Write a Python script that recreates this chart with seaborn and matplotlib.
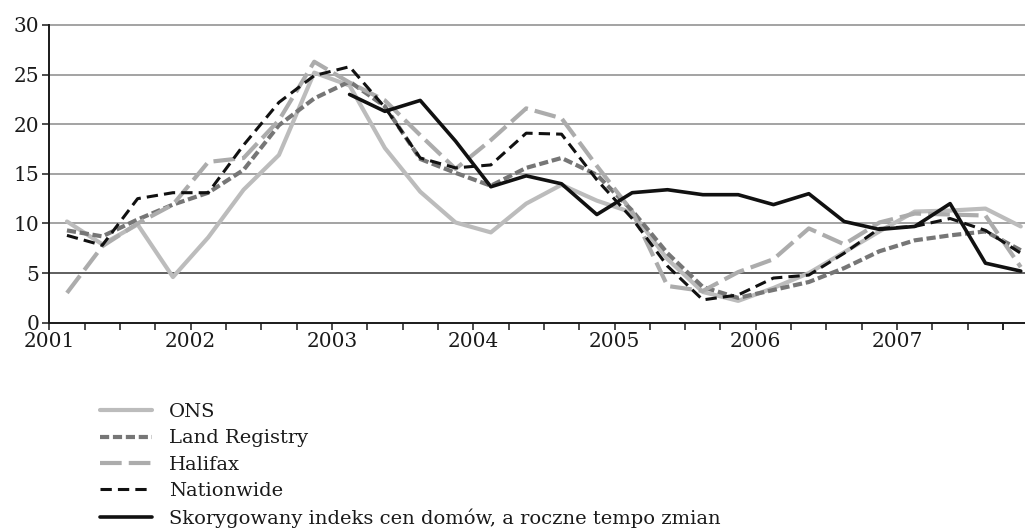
import numpy as np
import pandas as pd
import matplotlib
matplotlib.use("Agg")
import matplotlib.pyplot as plt
import seaborn as sns

years = [2001, 2002, 2003, 2004, 2005, 2006, 2007]
quarters = [y + (q - 0.5) / 4 for y in years for q in range(1, 5)]

ons = [10.2, 7.9, 9.9, 4.6, 8.6, 13.4, 16.9, 25.2, 23.9, 17.6, 13.2, 10.1, 9.1, 12.0,
       13.9, 12.3, 11.1, 6.4, 3.1, 2.2, 3.5, 5.0, 7.1, 9.2, 11.2, 11.3, 11.5, 9.7]
land_registry = [9.3, 8.7, 10.4, 11.9, 13.1, 15.4, 19.9, 22.6, 24.3, 21.8, 16.5, 15.1, 13.8, 15.6,
                 16.6, 14.9, 11.3, 7.0, 3.6, 2.5, 3.3, 4.1, 5.5, 7.2, 8.3, 8.8, 9.2, 7.3]
halifax = [3.0, 7.7, 10.0, 11.9, 16.2, 16.6, 20.4, 26.3, 24.2, 22.4, 18.9, 15.5, 18.4, 21.6,
           20.6, 15.8, 11.2, 3.7, 3.2, 5.1, 6.4, 9.5, 7.9, 10.1, 11.0, 10.9, 10.8, 5.6]
nationwide = [8.8, 7.8, 12.5, 13.1, 13.1, 17.9, 22.2, 24.9, 25.8, 21.7, 16.6, 15.6, 15.9, 19.1,
              19.0, 14.4, 10.5, 5.7, 2.3, 2.8, 4.5, 4.8, 7.0, 9.5, 9.7, 10.5, 9.3, 7.0]
adjusted = [np.nan] * 8 + [23.0, 21.3, 22.4, 18.3, 13.7, 14.8, 14.0, 10.9, 13.1, 13.4,
                           12.9, 12.9, 11.9, 13.0, 10.2, 9.4, 9.7, 12.0, 6.0, 5.2]

names = ["ONS", "Land Registry", "Halifax", "Nationwide",
         "Skorygowany indeks cen domów, a roczne tempo zmian"]
series = [ons, land_registry, halifax, nationwide, adjusted]

df = pd.DataFrame({"x": quarters * len(names),
                   "y": np.concatenate(series),
                   "series": np.repeat(names, len(quarters))})

styles = {
    names[0]: dict(color="#bcbcbc", lw=3.0, ls="-"),
    names[1]: dict(color="#767676", lw=3.0, ls=(0, (2.2, 0.9))),
    names[2]: dict(color="#acacac", lw=3.0, ls=(0, (5.2, 1.7))),
    names[3]: dict(color="#111111", lw=2.2, ls=(0, (3.7, 2.0))),
    names[4]: dict(color="#111111", lw=2.6, ls="-"),
}

sns.set_style("white")
plt.rcParams["font.family"] = ["DejaVu Serif"]
plt.rcParams["text.color"] = "#1a1a1a"

fig = plt.figure(figsize=(10.25, 5.32), dpi=100)
ax = fig.add_axes([49.3 / 1025, 1 - 322.7 / 532, (1025 - 49.3) / 1025, (322.7 - 25) / 532])

for n in names:
    s = styles[n]
    sub = df[df["series"] == n].dropna()
    sns.lineplot(data=sub, x="x", y="y", ax=ax, color=s["color"], linewidth=s["lw"],
                 linestyle=s["ls"], label=n, legend=False)

ax.set_xlim(2001, 2007.905)
ax.set_ylim(0, 30)
ax.set_yticks(range(0, 31, 5))
ax.set_xticks(years)
ax.set_xticks([y + q / 4 for y in years for q in range(4)] + [2007.75], minor=True)
ax.set_xticklabels([str(y) for y in years])
ax.set_xlabel("")
ax.set_ylabel("")

for v in range(5, 31, 5):
    ax.axhline(v, color="#333333" if v == 5 else "#8a8a8a", lw=1.1, zorder=0.5, clip_on=False)

for sp in ["top", "right"]:
    ax.spines[sp].set_visible(False)
for sp in ["left", "bottom"]:
    ax.spines[sp].set_color("#1a1a1a")
    ax.spines[sp].set_linewidth(1.4)

ax.tick_params(axis="both", which="both", direction="out", length=5, width=1.1,
               color="#1a1a1a", labelsize=14.5, labelcolor="#1a1a1a")
ax.tick_params(axis="x", which="both", bottom=True, pad=2)
ax.tick_params(axis="y", left=True, pad=2)

handles, labels = ax.get_legend_handles_labels()
fig.legend(handles, labels, loc="upper left", bbox_to_anchor=(100 / 1025, 1 - 403 / 532),
           frameon=False, fontsize=14, handlelength=2.65, handletextpad=0.9,
           borderpad=0, borderaxespad=0, labelspacing=0.43)

fig.savefig("out.png", dpi=100)
